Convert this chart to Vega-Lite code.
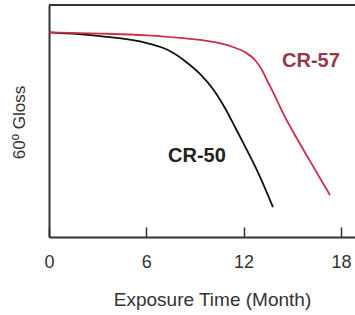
{
  "$schema": "https://vega.github.io/schema/vega-lite/v6.json",
  "width": 306,
  "height": 232,
  "autosize": {"type": "none"},
  "padding": {"left": 49, "top": 5, "right": 0, "bottom": 78},
  "background": "white",
  "config": {
    "view": {"stroke": null},
    "font": "Liberation Sans"
  },
  "datasets": {
    "curves": [
      {"series": "CR-50", "month": 0, "gloss": 88.2},
      {"series": "CR-50", "month": 3.14, "gloss": 86.6},
      {"series": "CR-50", "month": 6.04, "gloss": 83.6},
      {"series": "CR-50", "month": 7.46, "gloss": 80.2},
      {"series": "CR-50", "month": 8.38, "gloss": 75.9},
      {"series": "CR-50", "month": 9.31, "gloss": 70.3},
      {"series": "CR-50", "month": 10.11, "gloss": 63.8},
      {"series": "CR-50", "month": 10.85, "gloss": 55.6},
      {"series": "CR-50", "month": 11.47, "gloss": 47.4},
      {"series": "CR-50", "month": 12.08, "gloss": 39.2},
      {"series": "CR-50", "month": 12.88, "gloss": 28.0},
      {"series": "CR-50", "month": 13.81, "gloss": 12.9},
      {"series": "CR-57", "month": 0, "gloss": 88.2},
      {"series": "CR-57", "month": 3.14, "gloss": 87.7},
      {"series": "CR-57", "month": 6.04, "gloss": 86.9},
      {"series": "CR-57", "month": 8.08, "gloss": 85.8},
      {"series": "CR-57", "month": 10.11, "gloss": 84.1},
      {"series": "CR-57", "month": 11.34, "gloss": 81.9},
      {"series": "CR-57", "month": 12.08, "gloss": 79.7},
      {"series": "CR-57", "month": 12.70, "gloss": 76.3},
      {"series": "CR-57", "month": 13.13, "gloss": 72.0},
      {"series": "CR-57", "month": 13.50, "gloss": 66.8},
      {"series": "CR-57", "month": 13.93, "gloss": 60.8},
      {"series": "CR-57", "month": 14.43, "gloss": 53.4},
      {"series": "CR-57", "month": 14.99, "gloss": 46.1},
      {"series": "CR-57", "month": 16.09, "gloss": 32.8},
      {"series": "CR-57", "month": 17.32, "gloss": 18.1}
    ],
    "labels": [
      {"series": "CR-50", "month": 9.12, "gloss": 34.9},
      {"series": "CR-57", "month": 16.15, "gloss": 75.9}
    ],
    "frame": [{"gloss": 100}]
  },
  "layer": [
    {
      "data": {"name": "frame"},
      "mark": {"type": "rule", "color": "#333333", "strokeWidth": 2},
      "encoding": {
        "y": {"field": "gloss", "type": "quantitative", "scale": {"domain": [0, 100], "nice": false}}
      }
    },
    {
      "data": {"name": "curves"},
      "mark": {"type": "line", "interpolate": "monotone", "strokeWidth": 1.8},
      "encoding": {
        "x": {
          "field": "month", "type": "quantitative",
          "scale": {"domain": [0, 18.87], "nice": false, "zero": false},
          "axis": {
            "values": [0, 6, 12, 18],
            "grid": false,
            "domainColor": "#333333", "domainWidth": 2,
            "tickColor": "#333333", "tickWidth": 1.5, "tickSize": -10,
            "labelFontSize": 18, "labelColor": "#333333", "labelPadding": 26,
            "labelFlush": false,
            "title": "Exposure Time (Month)",
            "titleFontSize": 19, "titleFontWeight": "normal", "titleColor": "#333333",
            "titleX": 163, "titleY": 62, "titleBaseline": "middle", "titleAnchor": null
          }
        },
        "y": {
          "field": "gloss", "type": "quantitative",
          "scale": {"domain": [0, 100], "nice": false},
          "axis": {
            "grid": false, "ticks": false, "labels": false,
            "domainColor": "#333333", "domainWidth": 2,
            "title": "60º Gloss",
            "titleFontSize": 17, "titleFontWeight": "normal", "titleColor": "#333333",
            "titleX": -30, "titleY": 117, "titleBaseline": "middle", "titleAngle": -90
          }
        },
        "color": {
          "field": "series", "type": "nominal",
          "scale": {"domain": ["CR-50", "CR-57"], "range": ["#111111", "#c8304a"]},
          "legend": null
        }
      }
    },
    {
      "data": {"name": "labels"},
      "mark": {"type": "text", "fontSize": 20, "fontWeight": "bold", "align": "center", "baseline": "middle"},
      "encoding": {
        "x": {"field": "month", "type": "quantitative"},
        "y": {"field": "gloss", "type": "quantitative"},
        "text": {"field": "series"},
        "color": {
          "field": "series", "type": "nominal",
          "scale": {"domain": ["CR-50", "CR-57"], "range": ["#222222", "#933a46"]},
          "legend": null
        }
      }
    }
  ],
  "resolve": {"scale": {"color": "independent"}}
}
